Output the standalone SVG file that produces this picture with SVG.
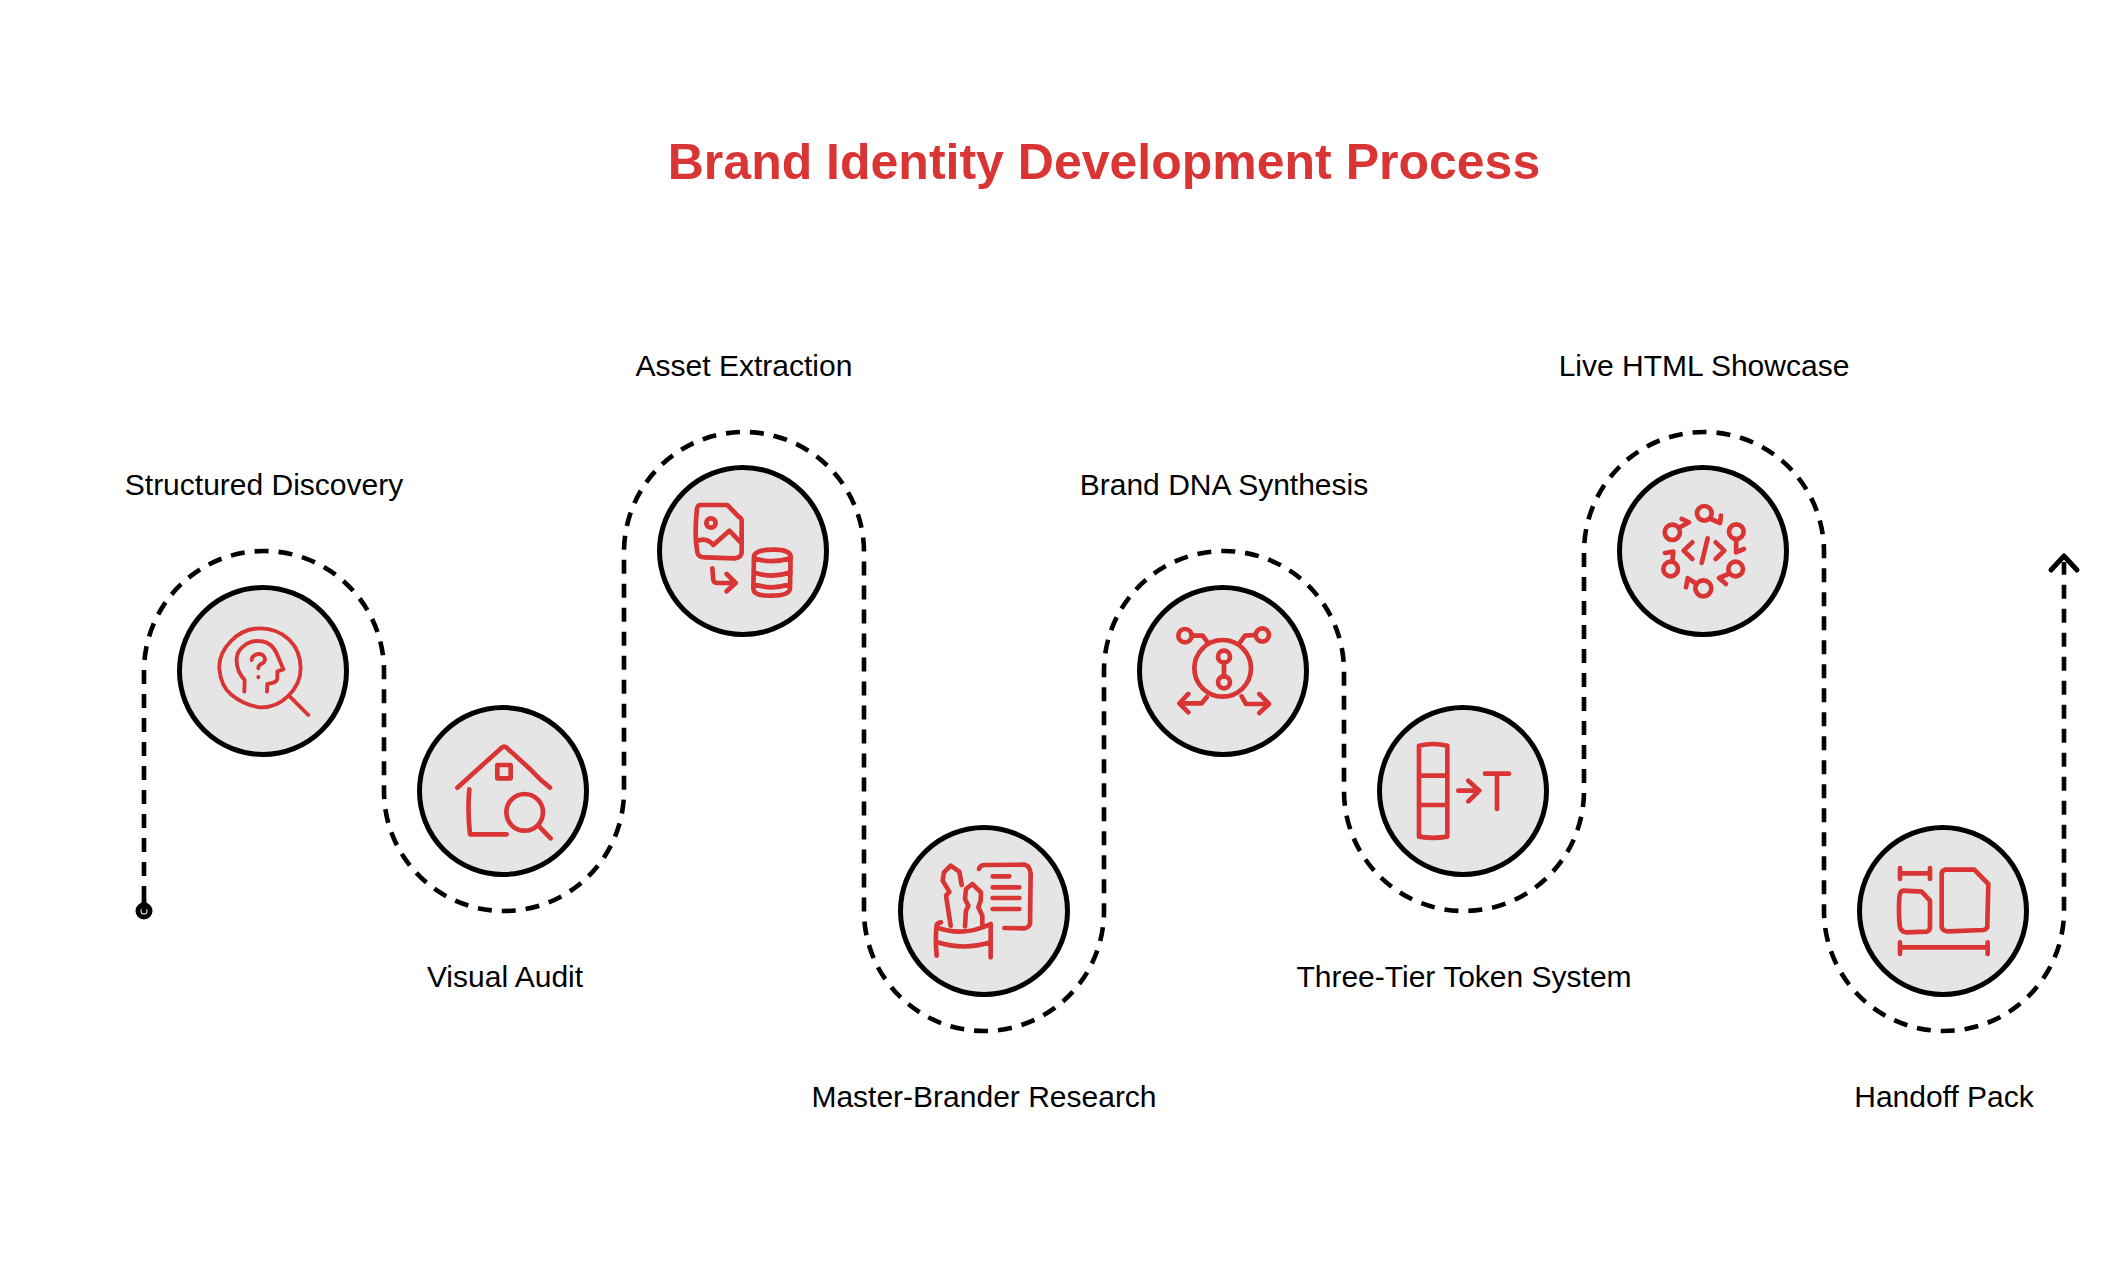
<svg xmlns="http://www.w3.org/2000/svg" width="2118" height="1273" viewBox="0 0 2118 1273">
<style>
text{font-family:"Liberation Sans",Arial,sans-serif}
.title{font-size:50px;font-weight:700;fill:#d93535;text-anchor:middle}
.label{font-size:30px;fill:#000;text-anchor:middle}
.disc{fill:#e5e5e5;stroke:#000;stroke-width:5}
.icon{fill:none;stroke:#d93535;stroke-width:14;stroke-linecap:round;stroke-linejoin:round}
.thin{stroke-width:11.5}
.route{fill:none;stroke:#000;stroke-width:4.6;stroke-dasharray:14 10;stroke-linecap:butt}
.solid{fill:none;stroke:#000;stroke-width:5;stroke-linecap:round;stroke-linejoin:round}
</style>
<rect width="2118" height="1273" fill="#fff"/>
<text class="title" x="1104" y="179">Brand Identity Development Process</text>
<g id="connectors">
<path class="route" d="M144 900V671A120 120 0 0 1 384 671V791A120 120 0 0 0 624 791V552A120 120 0 0 1 864 552V911A120 120 0 0 0 1104 911V671A120 120 0 0 1 1344 671V791A120 120 0 0 0 1584 791V552A120 120 0 0 1 1824 552V911A120 120 0 0 0 2064 911V562"/>
<path class="solid" d="M2051 570L2064 556L2077 570"/>
<circle class="solid" cx="144" cy="911" r="6"/>
<path class="solid" d="M144 901V911"/>
</g>
<g id="node-1">
<circle class="disc" cx="263" cy="671" r="83.5"/>
<g class="icon thin" transform="translate(200 600) scale(.3333)">
<path d="M58 205C55 150 110 85 180 85C250 85 302 135 302 205C302 270 240 325 180 322C150 318 120 305 95 285C70 265 60 235 58 205ZM272 292L325 345M133 275L134 240C120 225 108 205 110 175C112 145 145 122 175 123C205 123 222 140 232 165L250 208L232 214L232 235C232 248 215 250 202 252L201 275M155 180C155 165 175 158 188 165C200 175 195 188 183 192C176 195 175 200 175 205M175 231L175 232"/>
</g>
<text class="label" x="264" y="495">Structured Discovery</text>
</g>
<g id="node-2">
<circle class="disc" cx="503" cy="791" r="83.5"/>
<g class="icon" transform="translate(440 725) scale(.3333)">
<path d="M52 188L185 68Q192 62 200 68L270 132Q300 165 330 188M172 120H212V160H172ZM88 193Q82 260 90 328L200 328M298 305L332 340"/>
<circle cx="254" cy="262" r="55"/>
</g>
<text class="label" x="505" y="987">Visual Audit</text>
</g>
<g id="node-3">
<circle class="disc" cx="743" cy="551" r="83.5"/>
<g class="icon" transform="translate(680 489) scale(.3333)">
<path d="M60 48Q50 50 50 70Q43 140 52 190Q55 205 75 205L165 208Q185 205 185 190L185 95Q185 88 175 82L142 48ZM55 155Q80 145 100 168L148 125L182 160M97 238L100 272Q100 282 115 282L165 282M140 255L167 282L140 307M222 200Q230 182 275 182Q325 180 332 200L330 300Q325 320 275 320Q222 322 220 300ZM222 208Q275 225 332 208M222 250Q275 270 332 250M222 285Q275 305 330 285"/>
<circle cx="93" cy="102" r="14"/>
</g>
<text class="label" x="744" y="376">Asset Extraction</text>
</g>
<g id="node-4">
<circle class="disc" cx="984" cy="911" r="83.5"/>
<g class="icon" transform="translate(920 849) scale(.3333)">
<path d="M92 230L78 140L88 128L68 95L72 70L92 50L118 68L125 108M135 232L138 185L145 170L135 150L138 120L157 105L183 130L182 155L175 175L187 200L187 232M50 320Q45 270 50 228Q55 220 63 220M50 235Q130 265 212 225M52 280Q130 305 212 280M212 225L212 325M177 60Q180 48 195 48L315 47Q330 50 332 75L330 225Q325 238 310 238L253 237M218 82H268M218 115H298M218 147H298M218 180H298"/>
</g>
<text class="label" x="984" y="1107">Master-Brander Research</text>
</g>
<g id="node-5">
<circle class="disc" cx="1223" cy="671" r="83.5"/>
<g class="icon" transform="translate(1160 609) scale(.3333)">
<path d="M192 160V202M95 80H128L143 100M287 78L255 80L240 100M140 265L125 283H60M85 255L58 283L85 310M245 262L258 285H325M298 255L327 285L298 312"/>
<circle cx="188" cy="178" r="85"/><circle cx="192" cy="143" r="18"/><circle cx="192" cy="220" r="18"/><circle cx="75" cy="80" r="20"/><circle cx="307" cy="78" r="20"/>
</g>
<text class="label" x="1224" y="495">Brand DNA Synthesis</text>
</g>
<g id="node-6">
<circle class="disc" cx="1463" cy="791" r="83.5"/>
<g class="icon" transform="translate(1400 724) scale(.3333)">
<path d="M57 65Q100 55 142 65V338Q100 345 57 338ZM57 155H142M57 243H142M175 200H237M205 170L238 200L205 232M255 149H327M291 149V255"/>
</g>
<text class="label" x="1464" y="987">Three-Tier Token System</text>
</g>
<g id="node-7">
<circle class="disc" cx="1703" cy="551" r="83.5"/>
<g class="icon" transform="translate(1640 489) scale(.3333)">
<path d="M157 160L131 185L157 210M227 160L253 185L227 210M203 148L185 222M213 90L240 102L243 80M120 115L147 100L125 90M289 150L288 190L312 180M97 218L100 188L75 192M265 255L237 267L258 285M170 285L143 268L138 295"/>
<circle cx="193" cy="73" r="22"/><circle cx="97" cy="130" r="23"/><circle cx="289" cy="128" r="22"/><circle cx="92" cy="240" r="22"/><circle cx="287" cy="240" r="22"/><circle cx="190" cy="298" r="24"/>
</g>
<text class="label" x="1704" y="376">Live HTML Showcase</text>
</g>
<g id="node-8">
<circle class="disc" cx="1943" cy="911" r="83.5"/>
<g class="icon" transform="translate(1880 849) scale(.3333)">
<path d="M60 73H150M60 57V90M150 57V90M70 125Q60 125 58 145Q55 200 60 235Q65 250 80 250L140 248Q152 245 150 230L150 155L125 128ZM195 62Q183 65 185 80L185 235Q190 247 205 247L310 243Q325 240 322 225L325 105L283 62ZM60 295H323M60 280V315M323 280V315"/>
</g>
<text class="label" x="1944" y="1107">Handoff Pack</text>
</g>
</svg>
